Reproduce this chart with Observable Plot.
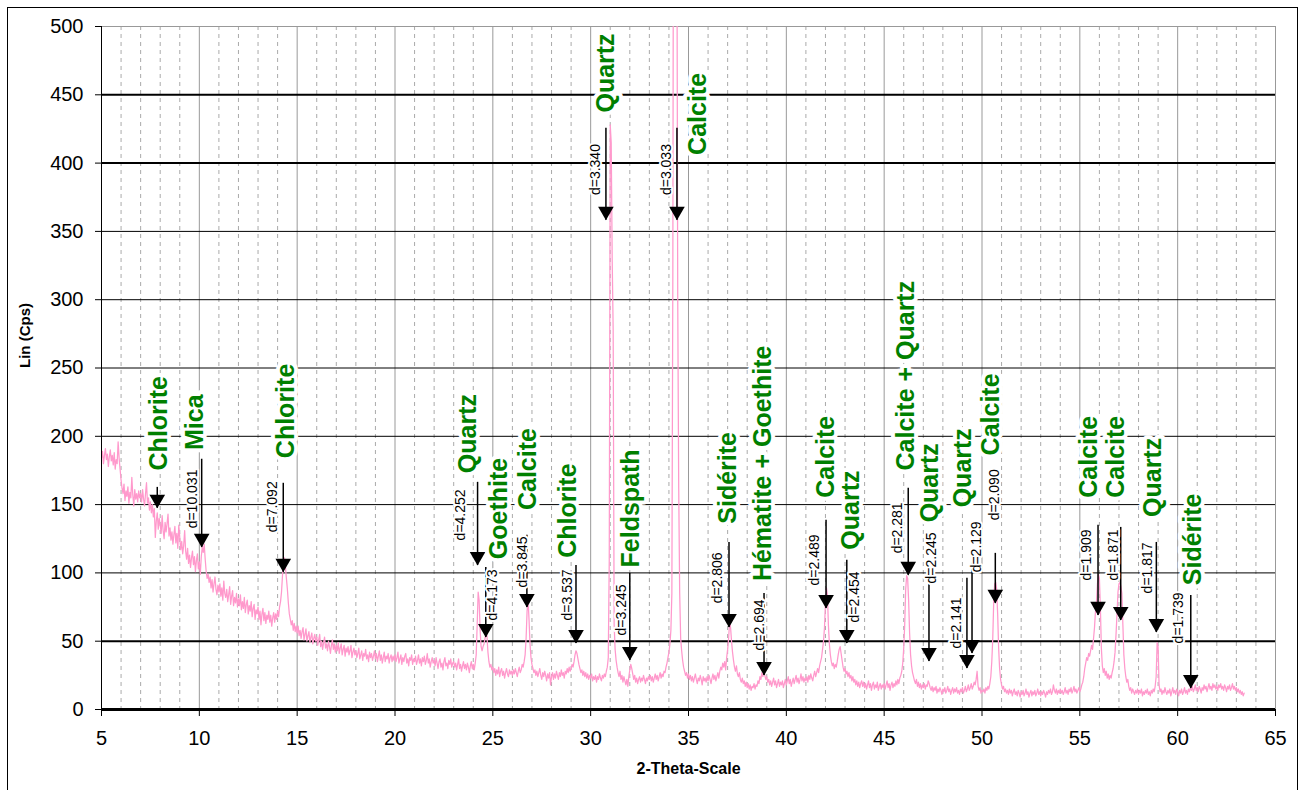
<!DOCTYPE html>
<html><head><meta charset="utf-8">
<script src="https://cdn.jsdelivr.net/npm/d3@7"></script>
<script src="https://cdn.jsdelivr.net/npm/@observablehq/plot@0.6"></script>
<style>
html,body{margin:0;padding:0;background:#fff;}
#wrap{position:relative;width:1300px;height:790px;overflow:hidden;background:#fff;}
#frame{position:absolute;left:7px;top:7px;width:1289px;height:800px;border:1px solid #000;pointer-events:none;}
</style></head><body>
<div id="wrap"><div id="chart"></div><div id="frame"></div></div>
<script>
// XRD scan: first 2-theta of each row (degrees), step 0.05 within a row
const scanFirstDegree = 5;
const scanStep = 0.05;
// Intensity (Lin, Cps), one row per degree of 2-theta
const scanRows = [
 [184,189,180,186,191,183,187,178,185,190,182,186,179,188,176,183,180,196,184,176], // 5
 [168,162,158,165,153,160,156,163,151,159,155,170,157,149,161,154,158,152,160,155], // 6
 [158,152,161,154,149,158,166,151,155,146,152,144,150,141,147,126,138,144,132,140], // 7
 [135,129,142,131,125,137,130,136,143,127,133,124,130,121,128,134,122,129,118,135], // 8
 [126,117,123,114,120,131,116,110,118,107,113,104,111,116,106,112,101,109,114,103], // 9
 [108,99,112,119,115,121,110,101,96,99,93,97,89,95,86,92,97,88,84,91], // 10
 [86,92,83,89,80,94,85,82,88,79,84,90,77,83,87,76,82,78,85,75], // 11
 [81,76,84,73,79,74,82,71,77,80,70,76,72,79,68,74,77,66,73,70], // 12
 [75,66,72,62,70,74,65,71,63,69,66,72,64,69,61,67,71,64,70,66], // 13
 [72,68,75,79,86,98,108,111,104,96,88,78,70,66,62,65,58,63,57,61], // 14
 [56,61,54,58,52,57,60,51,55,59,50,54,57,49,53,56,48,52,55,50], // 15
 [53,47,51,55,46,50,44,49,53,45,48,43,50,46,41,47,51,44,48,42], // 16
 [47,43,49,41,45,48,40,44,47,39,45,42,46,40,43,47,38,42,45,40], // 17
 [43,38,41,45,37,40,43,36,41,39,44,37,40,35,42,38,41,36,39,43], // 18
 [37,41,35,39,43,36,40,34,38,42,35,39,37,41,34,38,40,35,39,36], // 19
 [40,35,38,42,34,37,40,33,38,35,39,41,34,37,32,38,36,40,33,37], // 20
 [35,39,33,36,40,34,37,32,38,35,39,33,36,41,34,37,31,35,38,34], // 21
 [36,32,38,34,30,35,37,31,34,29,35,38,32,34,30,36,33,37,31,34], // 22
 [35,31,34,29,33,37,30,33,28,32,35,30,33,29,34,31,27,32,35,30], // 23
 [33,29,34,40,62,86,80,58,46,43,46,48,52,56,54,42,35,31,33,29], // 24
 [31,27,30,25,29,26,31,24,28,30,25,28,23,27,30,26,24,29,26,28], // 25
 [25,29,26,30,27,24,28,31,27,29,33,31,35,40,52,72,80,66,48,38], // 26
 [33,30,27,29,25,28,24,27,30,25,22,27,24,28,25,21,26,23,27,18], // 27
 [24,27,22,26,23,28,25,22,27,24,29,25,27,23,28,26,30,27,31,28], // 28
 [30,33,31,35,40,43,41,37,33,30,27,29,25,28,24,27,23,26,22,25], // 29
 [23,26,21,24,22,25,20,24,22,26,23,21,25,23,26,24,28,31,38,110], // 30
 [428,415,330,278,62,44,36,31,27,24,28,22,25,20,24,21,18,22,17,24], // 31
 [29,33,30,26,22,25,20,23,19,22,24,20,23,21,25,22,19,23,21,24], // 32
 [22,25,21,24,20,23,26,22,25,21,24,27,23,26,24,28,27,31,34,38], // 33
 [42,48,58,85,320,820,1000,900,620,300,162,85,52,43,36,31,28,25,27,23], // 34
 [26,22,25,21,24,20,23,26,22,19,23,21,25,22,18,24,21,23,20,24], // 35
 [21,25,22,19,23,26,22,25,21,24,27,23,28,31,29,34,31,35,29,38], // 36
 [44,52,64,60,50,42,36,31,28,32,26,24,27,22,20,23,19,21,17,20], // 37
 [16,19,15,18,14,17,16,19,15,18,17,21,19,24,22,27,24,28,25,22], // 38
 [24,20,22,18,21,17,20,23,18,21,16,19,22,17,20,18,21,16,19,22], // 39
 [18,21,24,19,22,17,20,23,19,22,25,20,23,19,22,26,21,24,20,23], // 40
 [21,24,20,25,22,26,23,21,25,28,24,27,30,27,32,35,38,44,50,60], // 41
 [78,89,84,62,48,40,35,32,34,30,33,31,35,40,44,46,41,36,31,28], // 42
 [30,26,28,24,27,23,25,21,24,20,22,18,21,17,20,16,19,21,17,20], // 43
 [16,19,15,18,21,16,19,14,18,20,15,18,16,20,14,17,19,15,18,16], // 44
 [19,15,18,21,16,19,14,18,20,16,19,17,21,18,22,19,23,25,28,34], // 45
 [45,62,88,98,96,80,56,40,32,27,24,21,19,22,17,20,16,19,15,18], // 46
 [16,19,15,18,17,21,19,16,14,17,13,16,14,17,12,15,13,16,14,11], // 47
 [15,13,16,12,14,17,13,15,11,14,16,12,15,13,16,12,14,11,15,13], // 48
 [16,12,14,17,13,15,18,14,16,19,15,17,20,18,22,28,17,14,16,12], // 49
 [14,13,15,12,16,14,17,15,19,24,35,52,80,92,93,88,70,45,30,22], // 50
 [18,15,17,13,15,12,14,11,15,12,14,10,13,15,11,13,10,14,12,9], // 51
 [13,11,14,10,12,15,11,13,9,12,14,10,13,11,14,10,12,15,11,13], // 52
 [10,13,11,14,12,9,13,11,14,12,15,11,13,18,14,12,15,11,14,12], // 53
 [15,12,14,11,13,16,12,14,11,15,13,16,12,14,17,13,15,12,14,16], // 54
 [13,15,18,20,24,30,34,38,36,41,39,43,47,44,52,60,72,78,92,99], // 55
 [96,75,45,32,27,30,25,28,23,26,22,25,23,27,30,35,42,55,70,86], // 56
 [92,93,90,85,62,40,30,24,20,22,17,14,16,12,15,13,11,14,12,15], // 57
 [11,14,12,15,10,13,11,14,12,15,11,13,10,14,12,15,13,17,24,49], // 58
 [46,18,13,15,11,14,12,16,13,11,14,12,15,10,13,16,12,14,11,15], // 59
 [13,10,14,12,15,11,13,16,12,14,11,15,13,16,14,17,13,15,18,14], // 60
 [16,13,17,15,12,16,14,18,15,17,13,16,19,15,17,14,19,16,18,15], // 61
 [17,14,18,16,19,15,17,14,18,16,13,17,15,18,14,16,19,15,17,14], // 62
 [16,13,15,12,14,11,13,10,12] // 63
];

// Mineral names (green), position in 2-theta and intensity where the text starts
const mineralNames = ["Chlorite","Mica","Chlorite","Quartz","Goethite","Calcite","Chlorite","Quartz","Feldspath","Calcite","Sidérite","Hématite + Goethite","Calcite","Quartz","Calcite + Quartz","Quartz","Quartz","Calcite","Calcite","Calcite","Quartz","Sidérite"];
const mineralTheta = [7.92,9.76,14.41,23.71,25.31,26.78,28.82,30.78,32.06,35.47,37.0,38.80,42.03,43.31,46.13,47.35,49.03,50.47,55.49,56.87,58.74,60.79];
const mineralCps = [175,190,184,173,110,146,111,437,104,406,136,94,155,117,175,137,148,186,155,155,141,91];

// d-spacing labels
const dTexts = ["d=10.031","d=7.092","d=4.252","d=4.173","d=3.845","d=3.537","d=3.340","d=3.245","d=3.033","d=2.806","d=2.694","d=2.489","d=2.454","d=2.281","d=2.245","d=2.141","d=2.129","d=2.090","d=1.909","d=1.871","d=1.817","d=1.739"];
const dTheta = [9.64,13.73,23.36,24.98,26.52,28.82,30.27,31.58,33.9,36.49,38.61,41.42,43.47,45.70,47.40,48.68,49.71,50.63,55.33,56.70,58.44,60.02];
const dCps = [132.6,129.7,123.8,65.2,89.4,65.2,376.6,54.2,376.6,77.7,43.2,90.8,63.7,114.3,92.3,44.7,100.4,138.5,94.5,94.5,85,48.4];

// Peak markers: 2-theta, arrow start and arrow tip intensity
const arrowTheta = [7.85,10.12,14.29,24.22,24.64,26.74,29.25,30.78,32.0,34.41,37.07,38.86,42.03,43.09,46.23,47.29,49.23,49.49,50.68,55.93,57.09,58.91,60.67];
const arrowTop = [162.6,183.2,165.6,166.3,104,127.5,105.5,425.6,99.6,425.6,122.3,85,138.5,109.2,161.9,92,96,107,114.3,134.8,133.3,122.3,83.5];
const arrowTip = [147.3,118.7,100.4,105.5,52.7,74.7,48.4,358.2,35.9,358.2,60.1,24.9,74,48.4,98.2,35.2,30,41,77.7,68.9,65.2,56.4,15.4];

// Axis ticks
const xTicks = [5,10,15,20,25,30,35,40,45,50,55,60,65];
const yTicks = [0,50,100,150,200,250,300,350,400,450,500];
const xTitle = "2-Theta-Scale";
const yTitle = "Lin (Cps)";

const scan = scanRows.flatMap((row, i) => row.map((v, j) => ({theta: scanFirstDegree + i + j * scanStep, cps: v})));
const minerals = mineralNames.map((n, i) => ({name: n, theta: mineralTheta[i], cps: mineralCps[i]}));
const dLabels = dTexts.map((t, i) => ({text: t, theta: dTheta[i], cps: dCps[i]}));
const arrows = arrowTheta.map((t, i) => ({theta: t, top: arrowTop[i], tip: arrowTip[i]}));

const xMinor = d3.range(6, 65).filter(v => v % 5 !== 0);
const xMajor = xTicks.filter(v => v > 5);
const yThick = [50, 400, 450];
const yThin = [100, 150, 200, 250, 300, 350];

const font = "Liberation Sans, Arial, sans-serif";

const chart = Plot.plot({
  width: 1300, height: 790,
  marginLeft: 101, marginRight: 25, marginTop: 26, marginBottom: 81,
  x: {domain: [5, 65]},
  y: {domain: [0, 500]},
  style: {fontFamily: font, background: "transparent", overflow: "visible"},
  marks: [
    Plot.ruleX(xMinor, {stroke: "#aaa", strokeDasharray: "4,4"}),
    Plot.ruleX(xMajor, {stroke: "#999"}),
    Plot.ruleY([500], {stroke: "#999"}),
    Plot.ruleY(yThin, {stroke: "#000", strokeWidth: 1}),
    Plot.ruleY(yThick, {stroke: "#000", strokeWidth: 2}),
    Plot.line(scan, {x: "theta", y: "cps", stroke: "#ff99cc", strokeWidth: 1.25, clip: true}),
    Plot.ruleX([5], {stroke: "#000"}),
    Plot.ruleY([0], {stroke: "#000", strokeWidth: 3}),
    Plot.axisX(xTicks, {tickSize: 7, tickPadding: 14, fontSize: 20, label: null, fill: "#000"}),
    Plot.axisY(yTicks, {tickSize: 6, tickPadding: 12, fontSize: 20, label: null, fill: "#000"}),
    Plot.ruleX(arrows, {x: "theta", y1: "top", y2: "tip", stroke: "#000", strokeWidth: 1.5}),
    Plot.dot(arrows, {x: "theta", y: "tip", symbol: "triangle", r: 5.8, fill: "#000", rotate: 180, dy: -9}),
    Plot.text(dLabels, {x: "theta", y: "cps", text: "text", rotate: -90, textAnchor: "start", fontSize: 14, fill: "#000", stroke: "white", strokeWidth: 4, paintOrder: "stroke"}),
    Plot.text(minerals, {x: "theta", y: "cps", text: "name", rotate: -90, textAnchor: "start", fontSize: 25, fontWeight: "bold", fill: "#008000", stroke: "white", strokeWidth: 8, paintOrder: "stroke"}),
    Plot.text([yTitle], {frameAnchor: "left", dx: -76, rotate: -90, fontSize: 15, fontWeight: "bold", fill: "#000"}),
    Plot.text([xTitle], {frameAnchor: "bottom", dy: 64, fontSize: 16, fontWeight: "bold", fill: "#000"})
  ]
});
document.getElementById("chart").appendChild(chart);
</script>
</body></html>
